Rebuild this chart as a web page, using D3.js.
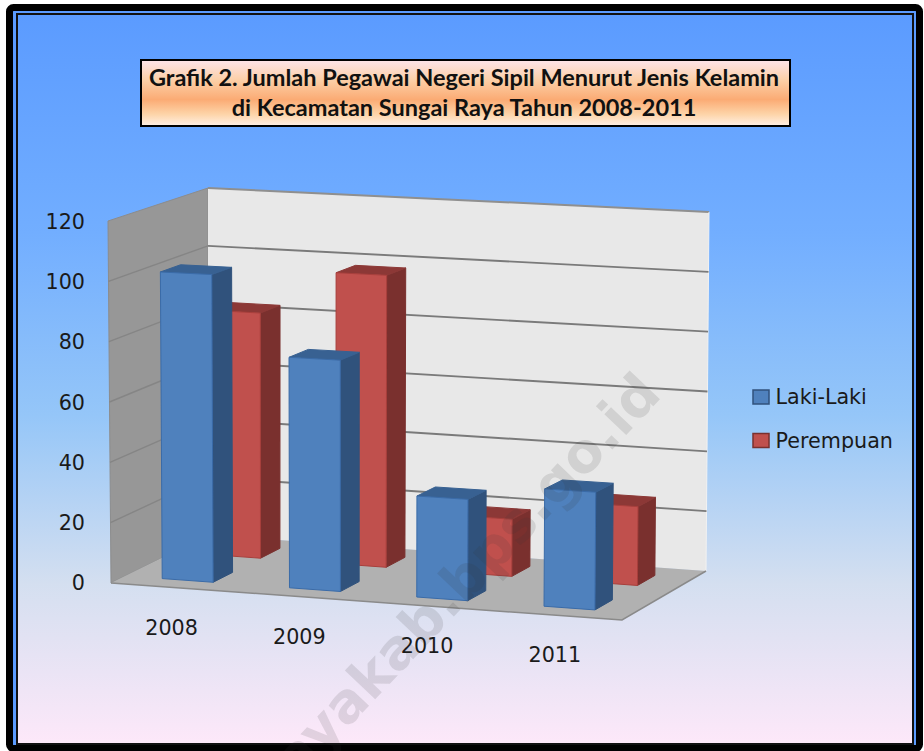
<!DOCTYPE html>
<html>
<head>
<meta charset="utf-8">
<script src="https://cdn.jsdelivr.net/npm/d3@7"></script>
<style>
html,body{margin:0;padding:0;background:#fff;overflow:hidden}
svg{display:block}
</style>
</head>
<body>
<svg id="c" width="924" height="751"></svg>
<script>
const categories = ["2008","2009","2010","2011"];
const seriesNames = ["Laki-Laki","Perempuan"];
const lakiLaki = [102,76,33,38];
const perempuan = [83,98,19,26];
const yTicks = [0,20,40,60,80,100,120];
const titleLines = ["Grafik 2. Jumlah Pegawai Negeri Sipil Menurut Jenis Kelamin","di Kecamatan Sungai Raya Tahun 2008-2011"];
const watermark = "ayakab.bps.go.id";

const seriesValues = [lakiLaki, perempuan];
const faceColors = [
  {front:"#4f81bd",side:"#30527c",top:"#386192",line:"#3a6ba8"},
  {front:"#c0504d",side:"#7a302e",top:"#8c3836",line:"#a83f3c"}
];

const svg = d3.select("#c");
const defs = svg.append("defs");
function grad(id, stops){
  const g = defs.append("linearGradient").attr("id",id).attr("x1",0).attr("y1",0).attr("x2",0).attr("y2",1);
  stops.forEach(s=>g.append("stop").attr("offset",s[0]).attr("stop-color",s[1]));
}
grad("bg",[[0,"#5b9bff"],[0.3,"#72aeff"],[0.55,"#95c6f8"],[0.78,"#d4dff0"],[1,"#fde8f9"]]);
grad("tb",[[0,"#fde4ea"],[0.3,"#fcd0a8"],[0.6,"#fbab74"],[0.82,"#fdd4a8"],[1,"#fff0e6"]]);

// outer frame
svg.append("rect").attr("x",9.5).attr("y",7.5).attr("width",910).attr("height",741).attr("rx",4)
  .attr("fill","#5b9bff").attr("stroke","#000").attr("stroke-width",7);
svg.append("rect").attr("x",17).attr("y",14).attr("width",896).attr("height",730)
  .attr("fill","url(#bg)").attr("stroke","#111").attr("stroke-width",2);

// 3D box: floor and ceiling corners, front-left, front-right, back-left, back-right
const floorC = {fl:[111,583],fr:[622,620],bl:[208,535],br:[706,571]};
const ceilC  = {fl:[108,221],fr:[625,245],bl:[208,188],br:[709,212]};
function bilin(c,u,d){
  return [0,1].map(i=>(1-d)*((1-u)*c.fl[i]+u*c.fr[i])+d*((1-u)*c.bl[i]+u*c.br[i]));
}
const hFrac = d3.scaleLinear().domain([0,120]).range([0,1]);
function P(u,d,v){
  const a=bilin(floorC,u,d), b=bilin(ceilC,u,d), t=hFrac(v);
  return [a[0]+(b[0]-a[0])*t, a[1]+(b[1]-a[1])*t];
}
const xBand = d3.scaleBand().domain(categories).range([-0.0025,0.9975]).paddingInner(0.6).paddingOuter(0.3);
const zBand = d3.scaleBand().domain(seriesNames).range([0,1]).paddingInner(0.59).paddingOuter(0.295);
const poly = pts => d3.line()(pts)+"Z";

const g = svg.append("g");
// walls
g.append("path").attr("d",poly([P(0,0,0),P(0,1,0),P(0,1,120),P(0,0,120)]))
  .attr("fill","#979797").attr("stroke","#8c8c8c");
g.append("path").attr("d",poly([P(0,1,0),P(1,1,0),P(1,1,120),P(0,1,120)]))
  .attr("fill","#e8e8e8").attr("stroke","none");
g.append("path").attr("d",d3.line()([P(0,1,120),P(1,1,120)])).attr("stroke","#8f8f8f").attr("stroke-width",2).attr("fill","none");
g.append("path").attr("d",d3.line()([P(1,1,0),P(1,1,120)])).attr("stroke","#f2f2f2").attr("fill","none");
// gridlines
yTicks.filter(v=>v>0&&v<120).forEach(v=>{
  g.append("path").attr("d",d3.line()([P(0,0,v),P(0,1,v)])).attr("stroke","#858585").attr("stroke-width",1.4).attr("fill","none");
  g.append("path").attr("d",d3.line()([P(0,1,v),P(1,1,v)])).attr("stroke","#7a7a7a").attr("stroke-width",1.9).attr("fill","none");
});
// floor
g.append("path").attr("d",poly([P(0,0,0),P(1,0,0),P(1,1,0),P(0,1,0)]))
  .attr("fill","#b1b1b1").attr("stroke","none");
g.append("path").attr("d",d3.line()([P(0,0,0),P(1,0,0),P(1,1,0)])).attr("stroke","#8a8a8a").attr("stroke-width",1.5).attr("fill","none");

// bars: rear series first
[1,0].forEach(si=>{
  const z0=zBand(seriesNames[si]), z1=z0+zBand.bandwidth(), col=faceColors[si];
  categories.forEach((cat,ci)=>{
    const u0=xBand(cat), u1=u0+xBand.bandwidth(), v=seriesValues[si][ci];
    const bar=g.append("g");
    bar.append("path").attr("d",poly([P(u1,z0,0),P(u1,z1,0),P(u1,z1,v),P(u1,z0,v)]))
      .attr("fill",col.side).attr("stroke",col.side);
    bar.append("path").attr("d",poly([P(u0,z0,v),P(u1,z0,v),P(u1,z1,v),P(u0,z1,v)]))
      .attr("fill",col.top).attr("stroke",col.top);
    bar.append("path").attr("d",poly([P(u0,z0,0),P(u1,z0,0),P(u1,z0,v),P(u0,z0,v)]))
      .attr("fill",col.front).attr("stroke",col.line).attr("stroke-width",1);
  });
});

// y axis
const yAxisScale = d3.scaleLinear().domain([0,120]).range([583,222]);
const yAxis = d3.axisLeft(yAxisScale).tickValues(yTicks).tickSize(0).tickPadding(0);
const ya = svg.append("g").attr("transform","translate(85,0)").call(yAxis);
ya.select(".domain").remove();
ya.selectAll("text").attr("font-family","'DejaVu Sans'").attr("font-size",20.7).attr("fill","#1a1a1a");

// category labels
svg.append("g").selectAll("text").data(categories).join("text")
  .attr("x",c=>P(xBand(c)+xBand.bandwidth()/2,0,0)[0]-2)
  .attr("y",c=>P(xBand(c)+xBand.bandwidth()/2,0,0)[1]+47)
  .attr("text-anchor","middle").attr("font-family","'DejaVu Sans'").attr("font-size",20.7).attr("fill","#1a1a1a")
  .text(c=>c);

// title
svg.append("rect").attr("x",141).attr("y",60).attr("width",649).attr("height",66)
  .attr("fill","url(#tb)").attr("stroke","#000").attr("stroke-width",2);
svg.append("g").selectAll("text").data(titleLines).join("text")
  .attr("x",464).attr("y",(d,i)=>86+i*30)
  .attr("text-anchor","middle").attr("font-family","Lato").attr("font-weight",700).attr("font-size",23.5).attr("fill","#111")
  .text(d=>d);

// legend
const ly = d3.scalePoint().domain(seriesNames).range([397,440.5]);
const lg = svg.append("g").selectAll("g").data(seriesNames).join("g")
  .attr("transform",d=>`translate(753,${ly(d)})`);
lg.append("rect").attr("x",0).attr("y",-7).attr("width",16).attr("height",14)
  .attr("fill",(d,i)=>faceColors[i].front).attr("stroke",(d,i)=>faceColors[i].side).attr("stroke-width",1.5);
lg.append("text").attr("x",22.5).attr("y",7).attr("font-family","'DejaVu Sans'").attr("font-size",20.7).attr("fill","#1a1a1a").text(d=>d);

// watermark
svg.append("text").attr("transform","translate(663,396) rotate(-46.5)")
  .attr("text-anchor","end").attr("font-family","'DejaVu Sans'").attr("font-weight",700).attr("font-size",55)
  .attr("fill","#333").attr("fill-opacity",0.13).text(watermark);
</script>
</body>
</html>
